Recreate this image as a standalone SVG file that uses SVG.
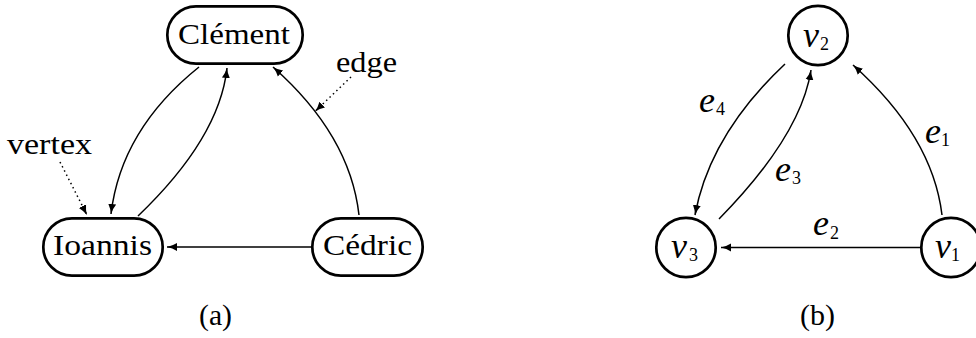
<svg xmlns="http://www.w3.org/2000/svg" width="976" height="338" viewBox="0 0 976 338">
  <style>
    .node { fill: #ffffff; stroke: #000000; stroke-width: 2.7; }
    .edge { fill: none; stroke: #000000; stroke-width: 1.5; }
    .dot { fill: none; stroke: #000000; stroke-width: 1.5; stroke-dasharray: 1.5 3.2; }
    .lbl { font-family: "Liberation Serif", "Times New Roman", serif; font-size: 29px; fill: #000000; }
    .mi { font-family: "Liberation Serif", "Times New Roman", serif; font-style: italic; font-size: 36px; fill: #000000; }
    .sub { font-family: "Liberation Serif", "Times New Roman", serif; font-size: 18px; fill: #000000; }
  </style>
  <defs>
    <marker id="arr" markerUnits="userSpaceOnUse" markerWidth="12" markerHeight="10" viewBox="0 -5 12 10" refX="10" refY="0" orient="auto">
      <path d="M0,-4 Q4.5,-1.2 10,0 Q4.5,1.2 0,4 Z" fill="#000000"/>
    </marker>
  </defs>
  <rect width="976" height="338" fill="#ffffff"/>

  <g id="connectors">
    <path class="edge" d="M199,67 Q121,129.5 111,214" marker-end="url(#arr)"/>
    <path class="edge" d="M138,216 Q219.5,138 227,68" marker-end="url(#arr)"/>
    <path class="edge" d="M359,215 Q350,135 273,67" marker-end="url(#arr)"/>
    <path class="edge" d="M311,247 L167,247" marker-end="url(#arr)"/>
    <path class="dot" d="M351,77 L315,111.5" marker-end="url(#arr)"/>
    <path class="dot" d="M60,162 L87,215" marker-end="url(#arr)"/>
    <path class="edge" d="M785,64 Q710,134.5 695,215" marker-end="url(#arr)"/>
    <path class="edge" d="M719,219 Q801,135.5 811,70" marker-end="url(#arr)"/>
    <path class="edge" d="M942,215 Q932.5,136 853,65" marker-end="url(#arr)"/>
    <path class="edge" d="M920,247.5 L721,247.5" marker-end="url(#arr)"/>
  </g>

  <g id="clement">
    <rect class="node" x="167.3" y="6.3" width="135.4" height="57.4" rx="28.7"/>
    <text class="lbl" x="178" y="43.5" textLength="112" lengthAdjust="spacingAndGlyphs">Clément</text>
  </g>
  <g id="ioannis">
    <rect class="node" x="43.3" y="218.3" width="119.4" height="57.4" rx="28.7"/>
    <text class="lbl" x="53" y="254.5" textLength="99" lengthAdjust="spacingAndGlyphs">Ioannis</text>
  </g>
  <g id="cedric">
    <rect class="node" x="312.3" y="218.3" width="110.4" height="57.4" rx="28.7"/>
    <text class="lbl" x="323" y="254.5" textLength="89" lengthAdjust="spacingAndGlyphs">Cédric</text>
  </g>
  <g id="label-vertex">
    <text class="lbl" x="7" y="153.5" textLength="85" lengthAdjust="spacingAndGlyphs">vertex</text>
  </g>
  <g id="label-edge">
    <text class="lbl" x="336" y="72" textLength="61" lengthAdjust="spacingAndGlyphs">edge</text>
  </g>
  <g id="caption-a">
    <text class="lbl" x="199" y="325" textLength="33" lengthAdjust="spacingAndGlyphs">(a)</text>
  </g>

  <g id="v2">
    <circle class="node" cx="818" cy="35.5" r="29.7"/>
    <text class="mi" x="803" y="46.5">v</text>
    <text class="sub" x="820" y="49.5">2</text>
  </g>
  <g id="v3">
    <circle class="node" cx="686" cy="247.5" r="29.7"/>
    <text class="mi" x="671" y="258">v</text>
    <text class="sub" x="689" y="261">3</text>
  </g>
  <g id="v1">
    <circle class="node" cx="951" cy="247.5" r="29.7"/>
    <text class="mi" x="935" y="258">v</text>
    <text class="sub" x="951" y="261">1</text>
  </g>
  <g id="edge-labels">
    <text class="mi" x="925" y="143">e</text><text class="sub" x="941" y="146">1</text>
    <text class="mi" x="813" y="235">e</text><text class="sub" x="830" y="238.5">2</text>
    <text class="mi" x="775" y="180.5">e</text><text class="sub" x="792" y="184">3</text>
    <text class="mi" x="699" y="111.5">e</text><text class="sub" x="716" y="115">4</text>
  </g>
  <g id="caption-b">
    <text class="lbl" x="800" y="325" textLength="35" lengthAdjust="spacingAndGlyphs">(b)</text>
  </g>
</svg>
